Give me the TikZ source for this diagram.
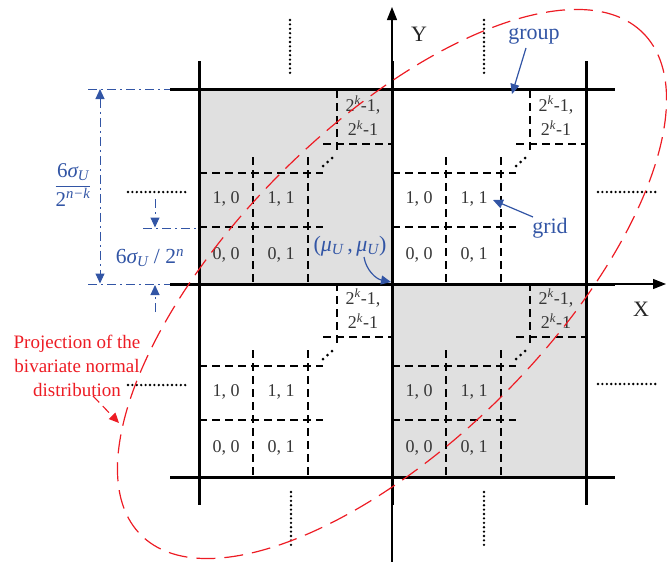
\documentclass[tikz,border=0pt]{standalone}
\usepackage{fontspec}
\setmainfont{Liberation Serif}
\usetikzlibrary{arrows.meta}
\definecolor{bl}{RGB}{50,85,165}
\definecolor{rd}{RGB}{237,28,36}
\definecolor{gfill}{RGB}{224,224,224}
\definecolor{txt}{RGB}{55,55,55}
\newcommand\qgrid[3]{%
\begin{scope}[shift={(#1,#2)}]
 \draw[gdash] (0,-57) -- (124,-57);
 \draw[gdash] (0,-111) -- (124,-111);
 \draw[gdash] (54,-127) -- (54,0);
 \draw[gdash] (109,-127) -- (109,0);
 \draw[gdash] (138,-194) -- (138,-132);
 \draw[gdash] (124,-140) -- (193,-140);
 \fill (124,-118) circle (1.5) (128.5,-122) circle (1.5) (133,-126) circle (1.5);
 \node[cell] (#3a) at (27,-85) {1, 0};
 \node[cell] (#3b) at (82,-85) {1, 1};
 \node[cell] (#3c) at (27,-29) {0, 0};
 \node[cell] (#3d) at (82,-29) {0, 1};
 \node[cell] (#3e) at (164,-179) {2\textsuperscript{\itshape k}-1,};
 \node[cell] (#3f) at (164,-156) {2\textsuperscript{\itshape k}-1};
\end{scope}}
\begin{document}
\begin{tikzpicture}[x=1pt,y=-1pt,
  thickl/.style={line width=3pt},
  gdash/.style={line width=1.2pt, dash pattern=on 8pt off 5pt},
  cell/.style={text=txt, font=\fontsize{18}{21}\selectfont, inner sep=0pt},
  dotline/.style={line width=2.6pt, dash pattern=on 0pt off 4.4pt, line cap=round},
  dimline/.style={bl, line width=1pt, dash pattern=on 9pt off 4pt on 2pt off 4pt},
  bltip/.style={-{Triangle[length=10pt,width=9pt]}},
  blabel/.style={text=bl, font=\fontsize{22}{26}\selectfont, inner sep=0pt},
  redd/.style={rd, line width=1.2pt, dash pattern=on 19pt off 9pt}]
\useasboundingbox (0,0) rectangle (667,562);
% shaded quadrants
\fill[gfill] (199,89) rectangle (392,284);
\fill[gfill] (392,284) rectangle (586,477);
% grids
\qgrid{199}{284}{tl}
\qgrid{392}{284}{tr}
\qgrid{199}{477}{bl}
\qgrid{392}{477}{br}
% axes
\coordinate (ybot) at (392,562);
\coordinate (ytop) at (392,7);
\coordinate (xst) at (586,284);
\coordinate (xend) at (666,284);
\draw[line width=1.2pt, -{Triangle[length=13pt,width=10pt]}] (ybot) -- (ytop);
\draw[line width=1.2pt, -{Triangle[length=13pt,width=10pt]}] (xst) -- (xend);
% thick lines
\draw[thickl] (170,89) -- (615,89);
\draw[thickl] (170,284) -- (615,284);
\draw[thickl] (170,477) -- (615,477);
\draw[thickl] (199,61) -- (199,505);
\draw[thickl] (392,61) -- (392,505);
\draw[thickl] (586,61) -- (586,505);
% dotted continuation marks
\draw[dotline] (290,20) -- (290,76);
\draw[dotline] (484,20) -- (484,76);
\draw[dotline] (291,492) -- (291,547);
\draw[dotline] (484,492) -- (484,547);
\draw[dotline] (128,192) -- (186,192);
\draw[dotline] (128,385) -- (186,385);
\draw[dotline] (598,192) -- (657,192);
\draw[dotline] (598,384) -- (657,384);
% dimension lines
\coordinate (d1a) at (88,89);  \coordinate (d1b) at (170,89);
\coordinate (d2a) at (88,284); \coordinate (d2b) at (170,284);
\coordinate (d3a) at (143,228); \coordinate (d3b) at (199,228);
\coordinate (v1) at (100,89); \coordinate (v2) at (100,283.5);
\draw[dimline] (d1a) -- (d1b);
\draw[dimline] (d2a) -- (d2b);
\draw[dimline] (d3a) -- (d3b);
\draw[dimline, {Triangle[length=10pt,width=9pt]}-{Triangle[length=10pt,width=9pt]}] (v1) -- (v2);
\coordinate (s1a) at (155,199); \coordinate (s1b) at (155,227.5);
\coordinate (s2a) at (155,312); \coordinate (s2b) at (155,285);
\draw[dimline, bltip] (s1a) -- (s1b);
\draw[dimline, bltip] (s2a) -- (s2b);
\node[blabel, font=\fontsize{21}{25}\selectfont] (frac) at (73,185)
  {$\displaystyle\frac{\mbox{6{\itshape σ}\textsubscript{\itshape U}}}{\mbox{2\textsuperscript{\itshape n−k}}}$};
\node[blabel, font=\fontsize{21.5}{25}\selectfont] (small) at (150,258)
  {6{\itshape σ}\textsubscript{\itshape U} / 2\textsuperscript{\itshape n}};
% ellipse
\coordinate (O) at (392,284);
\draw[redd] (O) ellipse [x radius=355pt, y radius=157pt, rotate=45];
% labels
\node[text=black!85, font=\fontsize{22}{26}\selectfont, inner sep=0pt] (Y) at (419,34) {Y};
\node[text=black!85, font=\fontsize{22}{26}\selectfont, inner sep=0pt] (X) at (641,309) {X};
\node[blabel] (group) at (534,36) {group};
\node[blabel] (grid) at (550,228) {grid};
\coordinate (gt) at (512,94);
\coordinate (gs) at (526,48);
\draw[bl, line width=1.2pt, bltip] (gs) -- (gt);
\coordinate (rt) at (493,200);
\coordinate (rs) at (533,217);
\draw[bl, line width=1.2pt, bltip] (rs) -- (rt);
\node[blabel, font=\fontsize{22}{26}\selectfont] (mu) at (350,246)
  {({\itshape μ}\textsubscript{\itshape U}\,,\,{\itshape μ}\textsubscript{\itshape U})};
\coordinate (ms) at (364,257);
\coordinate (mt) at (391,282);
\draw[bl, line width=1.2pt, bltip] (ms) .. controls (366,270) and (376,279) .. (mt);
\node[text=rd, font=\fontsize{19}{24}\selectfont, align=center, inner sep=0pt] (proj) at (77,366)
  {Projection of the\\bivariate normal\\distribution};
\coordinate (pa) at (93,396);
\coordinate (pb) at (119,423);
\draw[rd, line width=1.1pt, dash pattern=on 9pt off 5pt, -{Triangle[length=10pt,width=9pt]}] (pa) -- (pb);
\end{tikzpicture}
\end{document}
